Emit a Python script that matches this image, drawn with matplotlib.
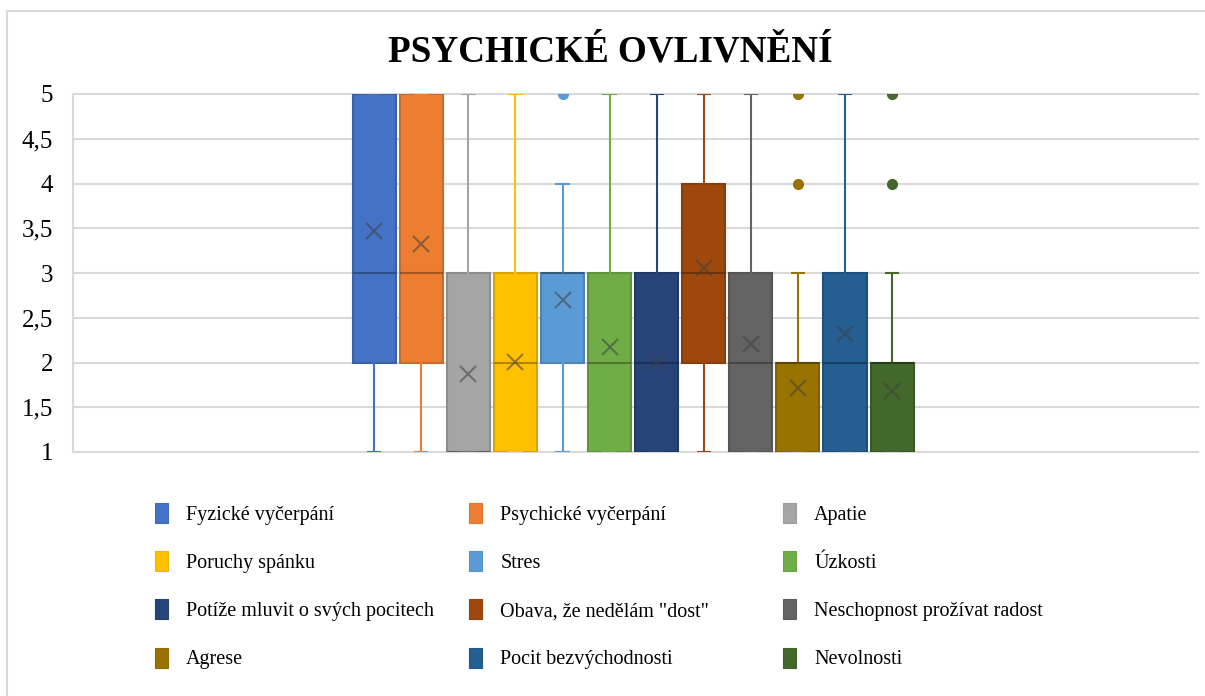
import numpy as np
import matplotlib
matplotlib.use("Agg")
import matplotlib.pyplot as plt
from matplotlib.patches import Patch
from matplotlib.lines import Line2D
from matplotlib.colors import to_rgb

plt.rcParams['font.family'] = ['Liberation Serif', 'DejaVu Serif']

# kategorie a souhrnné statistiky (škála 1-5)
labels = ["Fyzické vyčerpání", "Psychické vyčerpání", "Apatie",
          "Poruchy spánku", "Stres", "Úzkosti",
          "Potíže mluvit o svých pocitech", "Obava, že nedělám \"dost\"", "Neschopnost prožívat radost",
          "Agrese", "Pocit bezvýchodnosti", "Nevolnosti"]
q1 = [2, 2, 1, 1, 2, 1, 1, 2, 1, 1, 1, 1]
median = [3, 3, 1, 2, 3, 2, 2, 3, 2, 2, 2, 2]
q3 = [5, 5, 3, 3, 3, 3, 3, 4, 3, 2, 3, 2]
whis_lo = [1, 1, 1, 1, 1, 1, 1, 1, 1, 1, 1, 1]
whis_hi = [5, 5, 5, 5, 4, 5, 5, 5, 5, 3, 5, 3]
means = [3.47, 3.32, 1.87, 2.01, 2.70, 2.17, 2.01, 3.06, 2.21, 1.72, 2.32, 1.68]
outliers = [[], [], [], [], [5], [], [], [], [], [4, 5], [], [4, 5]]
colors = ["#4472C4", "#ED7D31", "#A5A5A5", "#FFC000", "#5B9BD5", "#70AD47",
          "#264478", "#9E480E", "#636363", "#997300", "#255E91", "#43682B"]


def darker(c, f=0.85):
    r, g, b = to_rgb(c)
    return (r * f, g * f, b * f)


W, H = 1205, 696
fig = plt.figure(figsize=(W / 100, H / 100), dpi=100)
ax = fig.add_axes([73 / W, 1 - 452 / H, (1198 - 73) / W, (452 - 94) / H])

stats = []
for i in range(len(labels)):
    stats.append(dict(label=labels[i], q1=q1[i], med=median[i], q3=q3[i],
                      whislo=whis_lo[i], whishi=whis_hi[i], mean=means[i],
                      fliers=outliers[i]))

pos = np.arange(len(labels))
bp = ax.bxp(stats, positions=pos, widths=0.915, patch_artist=True,
            showmeans=True, capwidths=0.26,
            medianprops=dict(color="black", alpha=0.3, lw=1.5),
            meanprops=dict(marker="x", markersize=11, markeredgewidth=1.5,
                           markeredgecolor="#404040", alpha=0.55))

for i, c in enumerate(colors):
    bp['boxes'][i].set_facecolor(c)
    bp['boxes'][i].set_edgecolor(darker(c))
    bp['boxes'][i].set_linewidth(1.5)
    for ln in bp['whiskers'][2 * i:2 * i + 2] + bp['caps'][2 * i:2 * i + 2]:
        ln.set_color(c)
        ln.set_linewidth(1.5)
    bp['fliers'][i].set(marker="o", markerfacecolor=c, markeredgecolor=c,
                        markersize=7)

ax.set_xlim(-6.4, 17.5)
ax.set_ylim(1, 5)
ax.set_yticks(np.arange(1, 5.01, 0.5))
ax.set_yticklabels([f"{v:g}".replace(".", ",") for v in np.arange(1, 5.01, 0.5)],
                   fontsize=18)
ax.tick_params(axis='y', length=0, pad=14.4)
ax.set_xticks([])
ax.yaxis.grid(True, color="#D9D9D9", lw=1.5)
ax.set_axisbelow(True)
for s in ['top', 'right', 'bottom']:
    ax.spines[s].set_visible(False)
ax.spines['left'].set_color("#D9D9D9")
ax.spines['left'].set_linewidth(1.5)
for ln in ax.get_ygridlines():
    ln.set_clip_on(False)

fig.text(610 / W, 1 - 62 / H, "PSYCHICKÉ OVLIVNĚNÍ", fontsize=26.7,
         fontweight="bold", ha="center", va="baseline")

# legenda ve třech sloupcích
handles = [Patch(facecolor=c, edgecolor=darker(c, 0.95), lw=0.8) for c in colors]
col_x = [155, 469, 783]
for k in range(3):
    idx = list(range(k, len(labels), 3))
    fig.legend([handles[j] for j in idx], [labels[j] for j in idx],
               loc="upper left", bbox_to_anchor=(col_x[k] / W, 1 - 503 / H),
               frameon=False, fontsize=14.5, borderpad=0, borderaxespad=0,
               handlelength=0.65, handleheight=1.15, handletextpad=0.9,
               labelspacing=1.31)

# rámeček grafu
fig.add_artist(Line2D([7.5 / W, 7.5 / W], [0, 1 - 11 / H], color="#D9D9D9", lw=1.5))
fig.add_artist(Line2D([7.5 / W, 1], [1 - 11 / H, 1 - 11 / H], color="#D9D9D9", lw=1.5))

fig.savefig("out.png", dpi=100, facecolor="white")
